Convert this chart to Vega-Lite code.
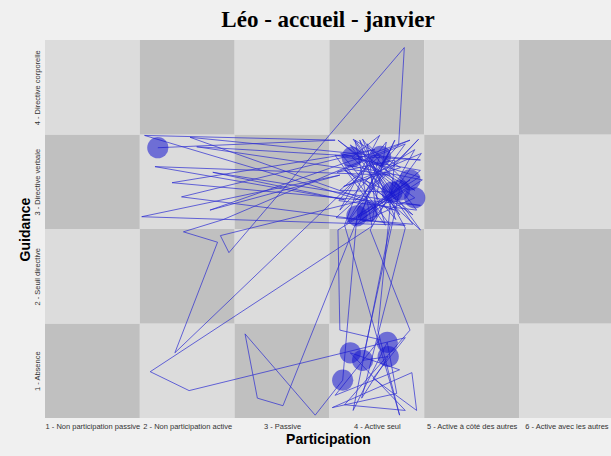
{
  "$schema": "https://vega.github.io/schema/vega-lite/v6.json",
  "autosize": "none",
  "padding": {"left": 45, "top": 40, "right": 0, "bottom": 38},
  "width": 566,
  "height": 378,
  "background": "#f0f0f0",
  "title": {"text": "Léo - accueil - janvier", "font": "Liberation Serif", "fontSize": 23, "fontWeight": "bold", "color": "black", "offset": 8, "anchor": "middle"},
  "config": {"view": {"stroke": null}},
  "datasets": {
    "damier": [
      {"participation": 0.5, "participation_fin": 1.5, "guidance": 0.5, "guidance_fin": 1.5, "teinte": "fonce"},
      {"participation": 0.5, "participation_fin": 1.5, "guidance": 1.5, "guidance_fin": 2.5, "teinte": "clair"},
      {"participation": 0.5, "participation_fin": 1.5, "guidance": 2.5, "guidance_fin": 3.5, "teinte": "fonce"},
      {"participation": 0.5, "participation_fin": 1.5, "guidance": 3.5, "guidance_fin": 4.5, "teinte": "clair"},
      {"participation": 1.5, "participation_fin": 2.5, "guidance": 0.5, "guidance_fin": 1.5, "teinte": "clair"},
      {"participation": 1.5, "participation_fin": 2.5, "guidance": 1.5, "guidance_fin": 2.5, "teinte": "fonce"},
      {"participation": 1.5, "participation_fin": 2.5, "guidance": 2.5, "guidance_fin": 3.5, "teinte": "clair"},
      {"participation": 1.5, "participation_fin": 2.5, "guidance": 3.5, "guidance_fin": 4.5, "teinte": "fonce"},
      {"participation": 2.5, "participation_fin": 3.5, "guidance": 0.5, "guidance_fin": 1.5, "teinte": "fonce"},
      {"participation": 2.5, "participation_fin": 3.5, "guidance": 1.5, "guidance_fin": 2.5, "teinte": "clair"},
      {"participation": 2.5, "participation_fin": 3.5, "guidance": 2.5, "guidance_fin": 3.5, "teinte": "fonce"},
      {"participation": 2.5, "participation_fin": 3.5, "guidance": 3.5, "guidance_fin": 4.5, "teinte": "clair"},
      {"participation": 3.5, "participation_fin": 4.5, "guidance": 0.5, "guidance_fin": 1.5, "teinte": "clair"},
      {"participation": 3.5, "participation_fin": 4.5, "guidance": 1.5, "guidance_fin": 2.5, "teinte": "fonce"},
      {"participation": 3.5, "participation_fin": 4.5, "guidance": 2.5, "guidance_fin": 3.5, "teinte": "clair"},
      {"participation": 3.5, "participation_fin": 4.5, "guidance": 3.5, "guidance_fin": 4.5, "teinte": "fonce"},
      {"participation": 4.5, "participation_fin": 5.5, "guidance": 0.5, "guidance_fin": 1.5, "teinte": "fonce"},
      {"participation": 4.5, "participation_fin": 5.5, "guidance": 1.5, "guidance_fin": 2.5, "teinte": "clair"},
      {"participation": 4.5, "participation_fin": 5.5, "guidance": 2.5, "guidance_fin": 3.5, "teinte": "fonce"},
      {"participation": 4.5, "participation_fin": 5.5, "guidance": 3.5, "guidance_fin": 4.5, "teinte": "clair"},
      {"participation": 5.5, "participation_fin": 6.5, "guidance": 0.5, "guidance_fin": 1.5, "teinte": "clair"},
      {"participation": 5.5, "participation_fin": 6.5, "guidance": 1.5, "guidance_fin": 2.5, "teinte": "fonce"},
      {"participation": 5.5, "participation_fin": 6.5, "guidance": 2.5, "guidance_fin": 3.5, "teinte": "clair"},
      {"participation": 5.5, "participation_fin": 6.5, "guidance": 3.5, "guidance_fin": 4.5, "teinte": "fonce"}
    ],
    "trajet": [
      {"t": 1, "participation": 1.69, "guidance": 3.36},
      {"t": 2, "participation": 3.56, "guidance": 3.44},
      {"t": 3, "participation": 1.55, "guidance": 3.49},
      {"t": 4, "participation": 4.19, "guidance": 2.70},
      {"t": 5, "participation": 2.03, "guidance": 3.47},
      {"t": 6, "participation": 4.46, "guidance": 3.23},
      {"t": 7, "participation": 2.10, "guidance": 3.37},
      {"t": 8, "participation": 4.14, "guidance": 3.07},
      {"t": 9, "participation": 1.66, "guidance": 3.16},
      {"t": 10, "participation": 3.66, "guidance": 2.81},
      {"t": 11, "participation": 2.27, "guidance": 3.10},
      {"t": 12, "participation": 4.46, "guidance": 2.75},
      {"t": 13, "participation": 1.84, "guidance": 2.99},
      {"t": 14, "participation": 3.98, "guidance": 3.34},
      {"t": 15, "participation": 1.94, "guidance": 2.84},
      {"t": 16, "participation": 4.30, "guidance": 2.54},
      {"t": 17, "participation": 1.52, "guidance": 2.63},
      {"t": 18, "participation": 3.61, "guidance": 3.07},
      {"t": 19, "participation": 2.24, "guidance": 2.70},
      {"t": 20, "participation": 4.35, "guidance": 3.44},
      {"t": 21, "participation": 2.38, "guidance": 2.60},
      {"t": 22, "participation": 1.96, "guidance": 2.47},
      {"t": 23, "participation": 2.32, "guidance": 2.36},
      {"t": 24, "participation": 1.87, "guidance": 1.19},
      {"t": 25, "participation": 3.93, "guidance": 3.17},
      {"t": 26, "participation": 4.40, "guidance": 2.91},
      {"t": 27, "participation": 3.72, "guidance": 3.39},
      {"t": 28, "participation": 4.24, "guidance": 2.65},
      {"t": 29, "participation": 3.82, "guidance": 3.44},
      {"t": 30, "participation": 4.09, "guidance": 2.54},
      {"t": 31, "participation": 3.56, "guidance": 3.28},
      {"t": 32, "participation": 4.46, "guidance": 3.12},
      {"t": 33, "participation": 3.77, "guidance": 2.54},
      {"t": 34, "participation": 4.19, "guidance": 3.44},
      {"t": 35, "participation": 3.88, "guidance": 2.81},
      {"t": 36, "participation": 2.35, "guidance": 2.43},
      {"t": 37, "participation": 2.44, "guidance": 2.25},
      {"t": 38, "participation": 4.29, "guidance": 4.42},
      {"t": 39, "participation": 4.23, "guidance": 3.39},
      {"t": 40, "participation": 3.61, "guidance": 2.70},
      {"t": 41, "participation": 4.03, "guidance": 3.49},
      {"t": 42, "participation": 3.74, "guidance": 3.26},
      {"t": 43, "participation": 4.38, "guidance": 2.65},
      {"t": 44, "participation": 3.66, "guidance": 3.12},
      {"t": 45, "participation": 4.19, "guidance": 2.86},
      {"t": 46, "participation": 3.59, "guidance": 2.49},
      {"t": 47, "participation": 3.61, "guidance": 1.43},
      {"t": 48, "participation": 4.03, "guidance": 1.33},
      {"t": 49, "participation": 3.56, "guidance": 0.74},
      {"t": 50, "participation": 4.24, "guidance": 1.01},
      {"t": 51, "participation": 3.72, "guidance": 1.19},
      {"t": 52, "participation": 4.30, "guidance": 0.58},
      {"t": 53, "participation": 3.66, "guidance": 0.64},
      {"t": 54, "participation": 4.35, "guidance": 1.43},
      {"t": 55, "participation": 3.93, "guidance": 2.49},
      {"t": 56, "participation": 4.40, "guidance": 3.34},
      {"t": 57, "participation": 3.88, "guidance": 3.02},
      {"t": 58, "participation": 4.46, "guidance": 2.49},
      {"t": 59, "participation": 3.77, "guidance": 3.44},
      {"t": 60, "participation": 3.95, "guidance": 2.53},
      {"t": 61, "participation": 1.61, "guidance": 0.99},
      {"t": 62, "participation": 2.02, "guidance": 0.79},
      {"t": 63, "participation": 4.30, "guidance": 1.35},
      {"t": 64, "participation": 3.96, "guidance": 0.92},
      {"t": 65, "participation": 4.42, "guidance": 0.58},
      {"t": 66, "participation": 4.37, "guidance": 0.98},
      {"t": 67, "participation": 3.53, "guidance": 0.61},
      {"t": 68, "participation": 4.21, "guidance": 0.76},
      {"t": 69, "participation": 4.11, "guidance": 1.30},
      {"t": 70, "participation": 3.75, "guidance": 0.58},
      {"t": 71, "participation": 4.14, "guidance": 2.54},
      {"t": 72, "participation": 3.66, "guidance": 3.18},
      {"t": 73, "participation": 4.48, "guidance": 3.02},
      {"t": 74, "participation": 3.82, "guidance": 2.59},
      {"t": 75, "participation": 4.03, "guidance": 3.27},
      {"t": 76, "participation": 3.61, "guidance": 2.91},
      {"t": 77, "participation": 4.16, "guidance": 2.89},
      {"t": 78, "participation": 3.90, "guidance": 2.68},
      {"t": 79, "participation": 4.35, "guidance": 3.02},
      {"t": 80, "participation": 3.79, "guidance": 2.64},
      {"t": 81, "participation": 3.64, "guidance": 0.90},
      {"t": 82, "participation": 3.35, "guidance": 0.53},
      {"t": 83, "participation": 2.61, "guidance": 1.39},
      {"t": 84, "participation": 2.74, "guidance": 0.71},
      {"t": 85, "participation": 3.01, "guidance": 0.63},
      {"t": 86, "participation": 3.77, "guidance": 2.54},
      {"t": 87, "participation": 4.40, "guidance": 2.83},
      {"t": 88, "participation": 3.59, "guidance": 3.44},
      {"t": 89, "participation": 4.24, "guidance": 2.91},
      {"t": 90, "participation": 3.85, "guidance": 1.11},
      {"t": 91, "participation": 4.12, "guidance": 1.15},
      {"t": 92, "participation": 3.84, "guidance": 0.71},
      {"t": 93, "participation": 4.30, "guidance": 2.51},
      {"t": 94, "participation": 3.91, "guidance": 3.23},
      {"t": 95, "participation": 3.66, "guidance": 2.54},
      {"t": 96, "participation": 4.24, "guidance": 0.53},
      {"t": 97, "participation": 4.01, "guidance": 1.43},
      {"t": 98, "participation": 4.19, "guidance": 3.23},
      {"t": 99, "participation": 3.58, "guidance": 3.10},
      {"t": 100, "participation": 4.30, "guidance": 3.40},
      {"t": 101, "participation": 3.70, "guidance": 2.58},
      {"t": 102, "participation": 4.45, "guidance": 3.05},
      {"t": 103, "participation": 3.62, "guidance": 3.30},
      {"t": 104, "participation": 4.20, "guidance": 2.60},
      {"t": 105, "participation": 3.85, "guidance": 3.45},
      {"t": 106, "participation": 4.42, "guidance": 2.70},
      {"t": 107, "participation": 3.60, "guidance": 2.80},
      {"t": 108, "participation": 4.10, "guidance": 3.42},
      {"t": 109, "participation": 3.95, "guidance": 2.58},
      {"t": 110, "participation": 4.47, "guidance": 3.30},
      {"t": 111, "participation": 3.65, "guidance": 2.95},
      {"t": 112, "participation": 4.25, "guidance": 3.15},
      {"t": 113, "participation": 3.75, "guidance": 3.45},
      {"t": 114, "participation": 4.38, "guidance": 2.55},
      {"t": 115, "participation": 3.57, "guidance": 2.62},
      {"t": 116, "participation": 4.05, "guidance": 3.05},
      {"t": 117, "participation": 4.44, "guidance": 3.45},
      {"t": 118, "participation": 3.80, "guidance": 2.75},
      {"t": 119, "participation": 4.15, "guidance": 3.35},
      {"t": 120, "participation": 3.68, "guidance": 2.56},
      {"t": 121, "participation": 4.35, "guidance": 2.95},
      {"t": 122, "participation": 3.90, "guidance": 3.40},
      {"t": 123, "participation": 4.00, "guidance": 2.62}
    ],
    "cercles": [
      {"participation": 1.69, "guidance": 3.36},
      {"participation": 3.74, "guidance": 3.26},
      {"participation": 4.04, "guidance": 3.27},
      {"participation": 4.35, "guidance": 3.02},
      {"participation": 4.16, "guidance": 2.89},
      {"participation": 4.40, "guidance": 2.83},
      {"participation": 3.79, "guidance": 2.64},
      {"participation": 3.90, "guidance": 2.68},
      {"participation": 4.24, "guidance": 2.91},
      {"participation": 3.72, "guidance": 1.19},
      {"participation": 3.85, "guidance": 1.11},
      {"participation": 4.11, "guidance": 1.30},
      {"participation": 4.12, "guidance": 1.15},
      {"participation": 3.64, "guidance": 0.90}
    ]
  },
  "encoding": {
    "x": {
      "field": "participation", "type": "quantitative",
      "scale": {"domain": [0.5, 6.47], "nice": false, "zero": false},
      "axis": {
        "values": [1, 2, 3, 4, 5, 6],
        "labelExpr": "['', '1 - Non participation passive', '2 - Non participation active', '3 - Passive', '4 - Active seul', '5 - Active à côté des autres', '6 - Active avec les autres'][datum.value]",
        "labelFont": "Liberation Sans", "labelFontSize": 7.5, "labelColor": "#333333",
        "labelPadding": 4, "labelOverlap": false, "labelFlush": false,
        "ticks": false, "domain": false, "grid": false,
        "title": "Participation", "titleFont": "Liberation Sans", "titleFontSize": 14, "titleFontWeight": "bold", "titleColor": "black", "titlePadding": 3
      }
    },
    "y": {
      "field": "guidance", "type": "quantitative",
      "scale": {"domain": [0.5, 4.5], "nice": false, "zero": false},
      "axis": {
        "values": [1, 2, 3, 4],
        "labelExpr": "['', '1 - Absence', '2 - Seuil directive', '3 - Directive verbale', '4 - Directive corporelle'][datum.value]",
        "labelFont": "Liberation Sans", "labelFontSize": 7.5, "labelColor": "#333333",
        "labelAngle": -90, "labelAlign": "center", "labelBaseline": "bottom",
        "labelPadding": 4, "labelOverlap": false, "labelFlush": false,
        "ticks": false, "domain": false, "grid": false,
        "title": "Guidance", "titleFont": "Liberation Sans", "titleFontSize": 14, "titleFontWeight": "bold", "titleColor": "black", "titlePadding": 1
      }
    }
  },
  "layer": [
    {
      "data": {"name": "damier"},
      "mark": {"type": "rect", "clip": true},
      "encoding": {
        "x2": {"field": "participation_fin"},
        "y2": {"field": "guidance_fin"},
        "color": {"field": "teinte", "type": "nominal", "scale": {"domain": ["clair", "fonce"], "range": ["#dcdcdc", "#c0c0c0"]}, "legend": null}
      }
    },
    {
      "data": {"name": "trajet"},
      "mark": {"type": "line", "stroke": "#2b2bd1", "strokeWidth": 1, "opacity": 0.7},
      "encoding": {"order": {"field": "t", "type": "quantitative"}}
    },
    {
      "data": {"name": "cercles"},
      "mark": {"type": "point", "shape": "circle", "filled": true, "size": 450, "color": "#1414d0", "opacity": 0.55, "strokeWidth": 0}
    }
  ]
}
